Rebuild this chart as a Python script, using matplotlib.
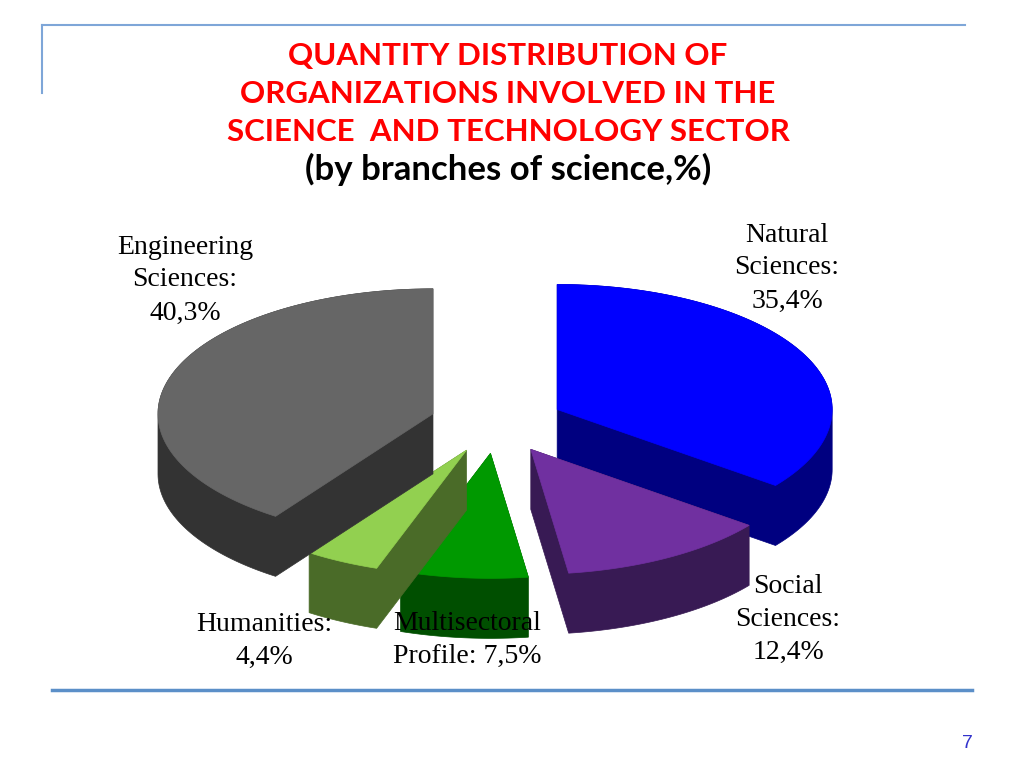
import numpy as np
import matplotlib.pyplot as plt
from matplotlib.patches import Polygon

# data, clockwise from 12 o'clock
branches = ['Natural\nSciences:', 'Social\nSciences:', 'Multisectoral\nProfile:',
            'Humanities:', 'Engineering\nSciences:']
shares = [35.4, 12.4, 7.5, 4.4, 40.3]
top_colors = ['#0000FF', '#7030A0', '#009900', '#92D050', '#666666']
side_colors = ['#000080', '#381A54', '#004F00', '#4A6B28', '#333333']

title_lines = ['QUANTITY DISTRIBUTION OF', 'ORGANIZATIONS INVOLVED IN THE',
               'SCIENCE  AND TECHNOLOGY SECTOR']
subtitle = '(by branches of science,%)'

# label anchor (center of text block) in pixels
label_pos = [(787, 268), (788, 619), (467, 640), (264, 641), (185, 280)]

cx, cy = 497, 423
rx, ry = 275, 125
depth = 60
explode = 0.244


def hull(points):
    pts = sorted(set(map(tuple, np.round(points, 3))))
    def cross(o, a, b):
        return (a[0] - o[0]) * (b[1] - o[1]) - (a[1] - o[1]) * (b[0] - o[0])
    lower, upper = [], []
    for p in pts:
        while len(lower) >= 2 and cross(lower[-2], lower[-1], p) <= 0:
            lower.pop()
        lower.append(p)
    for p in reversed(pts):
        while len(upper) >= 2 and cross(upper[-2], upper[-1], p) <= 0:
            upper.pop()
        upper.append(p)
    return np.array(lower[:-1] + upper[:-1])


fig = plt.figure(figsize=(10.24, 7.68), dpi=100)
ax = fig.add_axes([0, 0, 1, 1])
ax.set_xlim(0, 1024)
ax.set_ylim(768, 0)
ax.axis('off')

# slide decorations
ax.plot([42, 965], [25, 25], color='#7EA6D8', lw=1.5)
ax.plot([42, 42], [25, 93], color='#7EA6D8', lw=1.5)
ax.plot([52, 972], [690, 690], color='#5B8FC8', lw=2.5)
ax.text(967, 743, '7', color='#3333CC', fontsize=14, ha='center', va='center',
        family='Liberation Sans')

title_font = ['Lato', 'DejaVu Sans']
for i, line in enumerate(title_lines):
    ax.text(508, 56 + i * 38, line, color='#FF0000', fontsize=22.5, fontweight='bold',
            ha='center', va='center', family=title_font)
ax.text(508, 169, subtitle, color='black', fontsize=25, fontweight='bold',
        ha='center', va='center', family=title_font)

# 3d exploded pie
fracs = np.array(shares) / sum(shares)
starts = np.concatenate([[0], np.cumsum(fracs)[:-1]]) * 2 * np.pi
ends = np.cumsum(fracs) * 2 * np.pi
slices = []
for i in range(len(shares)):
    mid = (starts[i] + ends[i]) / 2
    x0 = cx + explode * rx * np.sin(mid)
    y0 = cy - explode * ry * np.cos(mid)
    t = np.linspace(starts[i], ends[i], 120)
    top = np.vstack([[x0, y0], np.column_stack([x0 + rx * np.sin(t), y0 - ry * np.cos(t)])])
    slices.append((y0, i, top))

for y0, i, top in sorted(slices):
    bottom = top + [0, depth]
    solid = hull(np.vstack([top, bottom]))
    ax.add_patch(Polygon(solid, closed=True, facecolor=side_colors[i],
                         edgecolor=side_colors[i], lw=0.5, zorder=2 + i * 0.01))
    ax.add_patch(Polygon(top, closed=True, facecolor=top_colors[i],
                         edgecolor=top_colors[i], lw=0.5, zorder=2 + i * 0.01))

for i, name in enumerate(branches):
    value = f'{shares[i]:.1f}%'.replace('.', ',')
    if name.startswith('Multisectoral'):
        txt = name + ' ' + value
    else:
        txt = name + '\n' + value
    ax.text(label_pos[i][0], label_pos[i][1], txt, ha='center', va='center',
            fontsize=20, family='Liberation Serif', linespacing=1.42, zorder=5)

fig.savefig('out.png', dpi=100)
